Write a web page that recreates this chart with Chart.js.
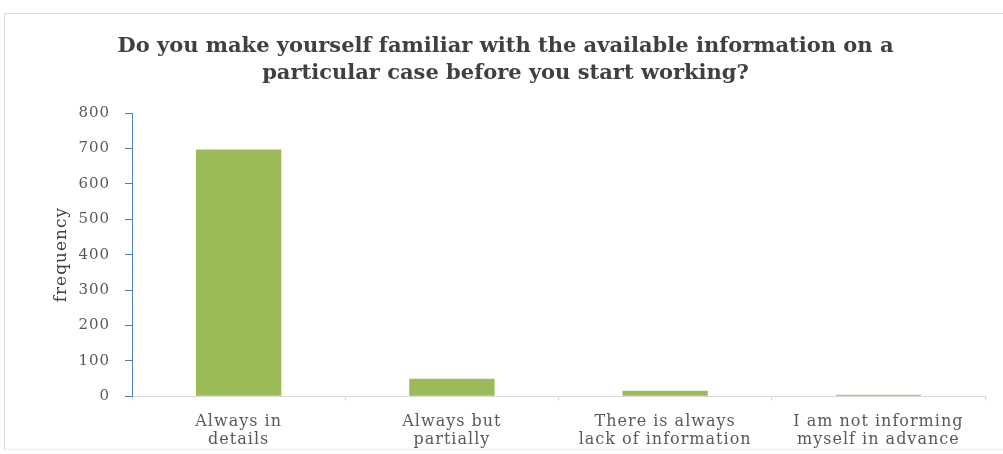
<!DOCTYPE html>
<html>
<head>
<meta charset="utf-8">
<script src="https://cdn.jsdelivr.net/npm/chart.js@4"></script>
<style>
    body { margin: 0; background: #fff; overflow: hidden; }
    #frame {
        position: absolute; left: 4px; top: 13px; width: 1010px; height: 437px;
        border-top: 1px solid #d9d9d9; border-left: 1px solid #d9d9d9; border-bottom: 1px solid #eeeeee;
        box-sizing: border-box;
    }
    #wrap { position: absolute; left: 0; top: 0; width: 1003px; height: 454px; }
</style>
</head>
<body>
<div id="frame"></div>
<div id="wrap"><canvas id="chart"></canvas></div>
<script>
const categories = [
    ['Always in', 'details'],
    ['Always but', 'partially'],
    ['There is always', 'lack of information'],
    ['I am not informing', 'myself in advance']
];
const frequency = [697, 49, 15, 4];
const yTicks = [0, 100, 200, 300, 400, 500, 600, 700, 800];

const serif = "'DejaVu Serif', 'Liberation Serif', serif";
const axisSpacing = '1px';

// axis text is a little more spread out than the title
const spacing = {
    id: 'spacing',
    afterInit(chart) {
        const block = chart.titleBlock;
        const draw = block.draw.bind(block);
        block.draw = (...args) => {
            chart.ctx.letterSpacing = '0px';
            draw(...args);
            chart.ctx.letterSpacing = axisSpacing;
        };
    },
    beforeLayout(chart) { chart.ctx.letterSpacing = axisSpacing; },
    beforeDraw(chart) { chart.ctx.letterSpacing = axisSpacing; }
};

new Chart(document.getElementById('chart').getContext('2d'), {
    type: 'bar',
    data: {
        labels: categories,
        datasets: [{
            label: 'frequency',
            data: frequency,
            backgroundColor: '#9bbb59',
            categoryPercentage: 0.8,
            barPercentage: 0.5
        }]
    },
    plugins: [spacing],
    options: {
        responsive: true,
        maintainAspectRatio: false,
        animation: false,
        layout: { padding: { left: 26, right: 18, top: 16, bottom: -8 } },
        plugins: {
            legend: { display: false },
            tooltip: { enabled: false },
            title: {
                display: true,
                text: ['Do you make yourself familiar with the available information on a',
                       'particular case before you start working?'],
                color: '#404040',
                font: { family: serif, size: 21, weight: 'bold', lineHeight: 1.24 },
                padding: { top: 18, bottom: 27 }
            }
        },
        scales: {
            x: {
                grid: { display: true, drawOnChartArea: false, drawTicks: true, tickLength: 4, color: '#d9d9d9' },
                border: { color: '#d9d9d9' },
                ticks: {
                    color: '#595959',
                    font: { family: serif, size: 16, lineHeight: 1.12 },
                    maxRotation: 0,
                    padding: 13
                }
            },
            y: {
                min: 0,
                max: 800,
                afterBuildTicks: axis => { axis.ticks = yTicks.map(v => ({ value: v })); },
                grid: { display: true, drawOnChartArea: false, drawTicks: true, tickLength: 7, color: '#4f81bd' },
                border: { color: '#4f81bd' },
                ticks: {
                    color: '#595959',
                    font: { family: serif, size: 15 },
                    padding: 15
                },
                title: {
                    display: true,
                    text: 'frequency',
                    color: '#404040',
                    font: { family: serif, size: 17 },
                    padding: { top: 25, bottom: -8 }
                }
            }
        }
    }
});
</script>
</body>
</html>
